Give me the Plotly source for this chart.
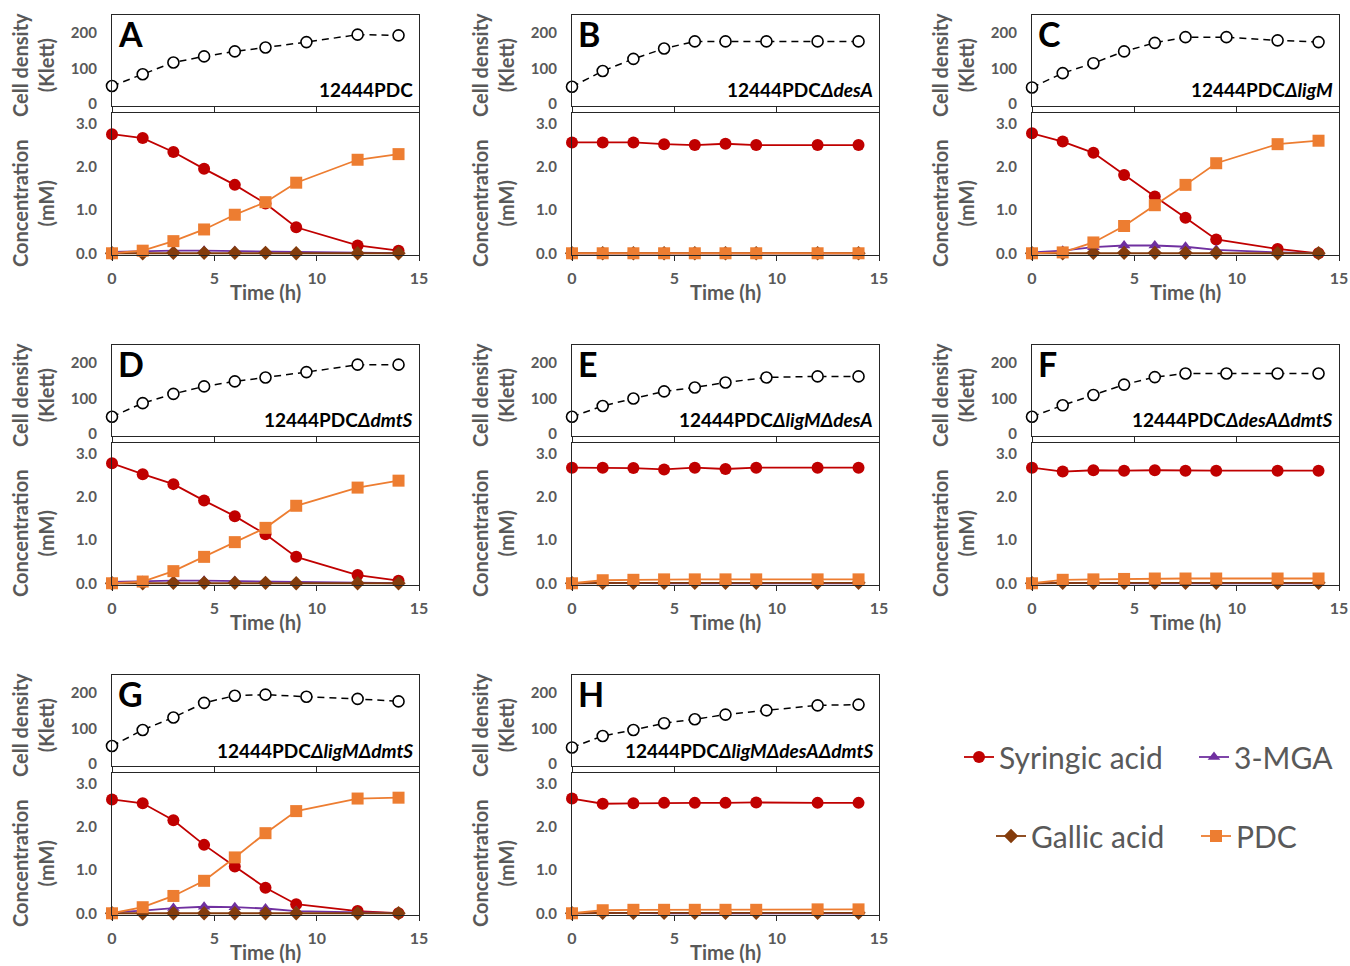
import plotly.graph_objects as go

W, H = 1350, 966

# ---------------- data ----------------
t_conc = [0, 1.5, 3, 4.5, 6, 7.5, 9, 12, 14]
t_dens = [0, 1.5, 3, 4.5, 6, 7.5, 9.5, 12, 14]

letters = ["A", "B", "C", "D", "E", "F", "G", "H"]
strain_labels = [
    "12444PDC",
    "12444PDC<i>ΔdesA</i>",
    "12444PDC<i>ΔligM</i>",
    "12444PDC<i>ΔdmtS</i>",
    "12444PDC<i>ΔligMΔdesA</i>",
    "12444PDC<i>ΔdesAΔdmtS</i>",
    "12444PDC<i>ΔligMΔdmtS</i>",
    "12444PDC<i>ΔligMΔdesAΔdmtS</i>",
]

density = {
    "A": [51, 84, 117, 134, 148, 159, 174, 195, 193],
    "B": [49, 93, 127, 156, 176, 176, 176, 176, 176],
    "C": [47, 87, 115, 148, 172, 188, 188, 179, 174],
    "D": [49, 87, 113, 134, 148, 159, 174, 195, 195],
    "E": [49, 79, 100, 120, 131, 145, 159, 162, 162],
    "F": [49, 81, 110, 139, 160, 170, 170, 170, 170],
    "G": [51, 96, 131, 172, 192, 195, 189, 183, 176],
    "H": [47, 79, 96, 115, 126, 139, 151, 165, 167],
}
syringic = {
    "A": [2.75, 2.66, 2.34, 1.95, 1.58, 1.15, 0.60, 0.18, 0.06],
    "B": [2.56, 2.56, 2.56, 2.52, 2.50, 2.53, 2.50, 2.50, 2.50],
    "C": [2.77, 2.58, 2.32, 1.81, 1.31, 0.82, 0.32, 0.10, 0.00],
    "D": [2.77, 2.52, 2.29, 1.91, 1.55, 1.13, 0.61, 0.19, 0.06],
    "E": [2.67, 2.67, 2.66, 2.63, 2.67, 2.64, 2.67, 2.67, 2.67],
    "F": [2.67, 2.58, 2.61, 2.60, 2.61, 2.60, 2.60, 2.60, 2.60],
    "G": [2.63, 2.54, 2.15, 1.58, 1.08, 0.59, 0.21, 0.05, 0.00],
    "H": [2.65, 2.53, 2.54, 2.55, 2.55, 2.55, 2.56, 2.55, 2.55],
}
mga = {
    "A": [0.03, 0.05, 0.06, 0.06, 0.05, 0.04, 0.02, 0.01, 0.00],
    "B": [0.00, 0.00, 0.00, 0.00, 0.00, 0.00, 0.00, 0.00, 0.00],
    "C": [0.02, 0.06, 0.14, 0.18, 0.18, 0.15, 0.08, 0.02, 0.00],
    "D": [0.03, 0.05, 0.06, 0.06, 0.05, 0.04, 0.02, 0.01, 0.00],
    "E": [0.00, 0.01, 0.01, 0.00, 0.00, 0.00, 0.00, 0.00, 0.00],
    "F": [0.00, 0.01, 0.01, 0.00, 0.00, 0.00, 0.00, 0.00, 0.00],
    "G": [0.02, 0.06, 0.12, 0.15, 0.14, 0.11, 0.05, 0.03, 0.00],
    "H": [0.00, 0.01, 0.01, 0.00, 0.00, 0.00, 0.00, 0.00, 0.00],
}
gallic = {
    "A": [0.00, 0.00, 0.01, 0.01, 0.01, 0.01, 0.00, 0.00, 0.00],
    "B": [0.00, 0.00, 0.00, 0.00, 0.00, 0.00, 0.00, 0.00, 0.00],
    "C": [0.00, 0.00, 0.01, 0.01, 0.01, 0.01, 0.01, 0.00, 0.00],
    "D": [0.00, 0.00, 0.01, 0.01, 0.01, 0.01, 0.00, 0.00, 0.00],
    "E": [0.00, 0.01, 0.01, 0.01, 0.01, 0.01, 0.01, 0.01, 0.01],
    "F": [0.00, 0.01, 0.01, 0.01, 0.01, 0.01, 0.01, 0.01, 0.01],
    "G": [0.00, 0.00, 0.00, 0.00, 0.00, 0.00, 0.00, 0.00, 0.00],
    "H": [0.00, 0.01, 0.01, 0.01, 0.01, 0.01, 0.01, 0.01, 0.01],
}
pdc = {
    "A": [0.00, 0.06, 0.28, 0.55, 0.89, 1.18, 1.63, 2.16, 2.29],
    "B": [0.00, 0.00, 0.00, 0.00, 0.00, 0.00, 0.00, 0.00, 0.00],
    "C": [0.00, 0.02, 0.25, 0.63, 1.11, 1.58, 2.08, 2.52, 2.60],
    "D": [0.00, 0.04, 0.28, 0.61, 0.95, 1.28, 1.79, 2.21, 2.37],
    "E": [0.00, 0.07, 0.08, 0.09, 0.09, 0.09, 0.09, 0.09, 0.09],
    "F": [0.00, 0.08, 0.09, 0.10, 0.11, 0.11, 0.11, 0.11, 0.11],
    "G": [0.00, 0.14, 0.40, 0.75, 1.29, 1.85, 2.36, 2.65, 2.67],
    "H": [0.00, 0.07, 0.08, 0.08, 0.08, 0.08, 0.08, 0.09, 0.09],
}

series = [
    ("Syringic acid", syringic, "#C00000", "circle", 12, "legend"),
    ("3-MGA", mga, "#7030A0", "triangle-up", 11, "legend2"),
    ("Gallic acid", gallic, "#843C0C", "diamond", 11, "legend3"),
    ("PDC", pdc, "#ED7D31", "square", 12, "legend4"),
]

# ---------------- layout geometry (pixels) ----------------
col_x0 = [112, 572, 1032]
plot_w = 307
row_off = [0, 330, 660]
FONT = "Lato, 'Open Sans', sans-serif"
GREY = "#595959"
AXC = "#262626"


def px_x(x):
    return x / W


def px_y(y):
    return 1 - y / H


fig = go.Figure()
layout = dict(
    width=W, height=H, margin=dict(l=0, r=0, t=0, b=0, autoexpand=False),
    paper_bgcolor="white", plot_bgcolor="white",
    font=dict(family=FONT, color=GREY),
    showlegend=True,
)
annotations = []

for i, L in enumerate(letters):
    r, c = divmod(i, 3)
    x0 = col_x0[c]
    off = row_off[r]
    top_n = 2 * i + 1
    bot_n = 2 * i + 2
    xd = [px_x(x0), px_x(x0 + plot_w)]
    top_dom = [px_y(106 + off), px_y(15 + off)]
    bot_dom = [px_y(255 + off), px_y(113 + off)]

    common_x = dict(range=[0, 15], showgrid=False, zeroline=False,
                    showline=True, linecolor=AXC, linewidth=1.3, mirror=True,
                    ticks="outside", ticklen=5, tickcolor=AXC, tickwidth=1.3,
                    tickvals=[0, 5, 10, 15], fixedrange=True)
    layout[f"xaxis{top_n}"] = dict(common_x, domain=xd, anchor=f"y{top_n}",
                                   showticklabels=False)
    layout[f"xaxis{bot_n}"] = dict(common_x, domain=xd, anchor=f"y{bot_n}",
                                   showticklabels=True,
                                   tickfont=dict(family=FONT, size=16, color=GREY,
                                                 weight="bold"),
                                   ticklabelstandoff=4)
    common_y = dict(showgrid=False, zeroline=False, showline=True, linecolor=AXC,
                    linewidth=1.3, mirror=True, ticks="", fixedrange=True,
                    tickfont=dict(family=FONT, size=15, color=GREY, weight="bold"),
                    ticklabelstandoff=11)
    layout[f"yaxis{top_n}"] = dict(common_y, domain=top_dom, anchor=f"x{top_n}",
                                   range=[-5, 250], tickvals=[0, 100, 200])
    layout[f"yaxis{bot_n}"] = dict(common_y, domain=bot_dom, anchor=f"x{bot_n}",
                                   range=[-0.04, 3.24], tickvals=[0, 1, 2, 3],
                                   ticktext=["0.0", "1.0", "2.0", "3.0"])

    # density
    fig.add_trace(go.Scatter(
        x=t_dens, y=density[L], mode="lines+markers", showlegend=False,
        xaxis=f"x{top_n}", yaxis=f"y{top_n}", cliponaxis=False,
        line=dict(color="black", width=1.5, dash="7px,5px"),
        marker=dict(symbol="circle", size=11, color="white",
                    line=dict(color="black", width=1.6)),
    ))
    # concentrations
    for name, d, col, sym, sz, lg in series:
        fig.add_trace(go.Scatter(
            x=t_conc, y=d[L], mode="lines+markers", name=name,
            showlegend=(i == 0), legend=lg,
            xaxis=f"x{bot_n}", yaxis=f"y{bot_n}", cliponaxis=False,
            line=dict(color=col, width=1.8),
            marker=dict(symbol=sym, size=sz, color=col),
        ))

    # panel letter
    annotations.append(dict(
        text=f"<b>{L}</b>", x=px_x(x0 + 4), y=px_y(33 + off), xref="paper",
        yref="paper", xanchor="left", yanchor="middle", showarrow=False,
        font=dict(family=FONT, size=34, color="black")))
    # strain label
    annotations.append(dict(
        text=f"<b>{strain_labels[i]}</b>", x=px_x(x0 + plot_w - 4),
        y=px_y(90 + off), xref="paper", yref="paper", xanchor="right",
        yanchor="middle", showarrow=False,
        font=dict(family=FONT, size=19, color="black")))
    # y titles
    annotations.append(dict(
        text="<b>Cell density<br>(Klett)</b>", x=px_x(x0 - 79), y=px_y(65 + off),
        xref="paper", yref="paper", xanchor="center", yanchor="middle",
        textangle=-90, showarrow=False,
        font=dict(family=FONT, size=20, color=GREY)))
    annotations.append(dict(
        text="<b>Concentration<br>(mM)</b>", x=px_x(x0 - 79), y=px_y(203 + off),
        xref="paper", yref="paper", xanchor="center", yanchor="middle",
        textangle=-90, showarrow=False,
        font=dict(family=FONT, size=20, color=GREY)))
    # x title
    annotations.append(dict(
        text="<b>Time (h)</b>", x=px_x(x0 + plot_w / 2), y=px_y(292 + off),
        xref="paper", yref="paper", xanchor="center", yanchor="middle",
        showarrow=False, font=dict(family=FONT, size=20, color=GREY)))

layout["annotations"] = annotations
legend_pos = {"legend": (959, 757), "legend2": (1194, 757),
              "legend3": (991, 836), "legend4": (1196, 836)}
for lg, (lx, ly) in legend_pos.items():
    layout[lg] = dict(orientation="h", x=px_x(lx), y=px_y(ly),
                      xanchor="left", yanchor="middle",
                      font=dict(family=FONT, size=30, color=GREY),
                      bgcolor="rgba(0,0,0,0)")

fig.update_layout(**layout)
fig.write_html("out.html")
